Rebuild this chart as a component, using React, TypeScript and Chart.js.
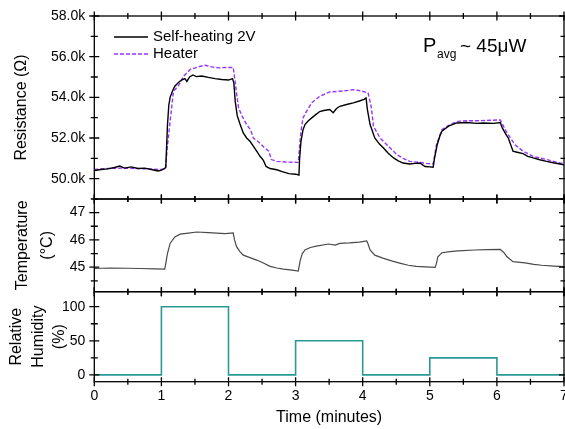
import React, { useEffect, useRef } from 'react';
import { Chart, registerables } from 'chart.js';

Chart.register(...registerables);

const FONT = "'Liberation Sans', Arial, Helvetica, sans-serif";

// ---- Resistance panel (kΩ) ----
const selfTime = [0, 0.1, 0.2, 0.3, 0.38, 0.45, 0.55, 0.65, 0.75, 0.85, 0.95, 1.0, 1.05, 1.065, 1.09, 1.11, 1.13, 1.17, 1.2, 1.25, 1.3, 1.35, 1.38, 1.42, 1.47, 1.52, 1.6, 1.7, 1.8, 1.9, 2.0, 2.06, 2.08, 2.1, 2.13, 2.17, 2.22, 2.27, 2.32, 2.37, 2.42, 2.47, 2.52, 2.56, 2.62, 2.72, 2.8, 2.9, 3.0, 3.05, 3.06, 3.08, 3.11, 3.14, 3.19, 3.24, 3.3, 3.36, 3.42, 3.51, 3.56, 3.61, 3.66, 3.76, 3.86, 3.95, 4.02, 4.05, 4.07, 4.11, 4.18, 4.25, 4.31, 4.38, 4.46, 4.53, 4.6, 4.7, 4.78, 4.85, 4.93, 5.0, 5.05, 5.07, 5.11, 5.15, 5.18, 5.28, 5.4, 5.55, 5.7, 5.8, 5.95, 6.05, 6.08, 6.13, 6.17, 6.24, 6.3, 6.39, 6.46, 6.54, 6.64, 6.74, 6.84, 6.94, 7.0];
const selfRes = [50.4, 50.45, 50.48, 50.55, 50.62, 50.52, 50.58, 50.5, 50.52, 50.45, 50.38, 50.42, 50.5, 50.55, 52.6, 53.6, 54.0, 54.35, 54.55, 54.72, 54.85, 54.92, 54.78, 55.0, 55.1, 55.02, 55.05, 54.98, 54.92, 54.88, 54.85, 54.92, 54.7, 53.8, 53.1, 52.7, 52.25, 52.0, 51.84, 51.6, 51.35, 51.1, 50.9, 50.6, 50.5, 50.44, 50.35, 50.25, 50.22, 50.18, 51.0, 51.84, 52.4, 52.66, 52.85, 52.99, 53.15, 53.3, 53.35, 53.4, 53.24, 53.45, 53.56, 53.65, 53.73, 53.82, 53.9, 53.97, 53.4, 52.66, 52.0, 51.7, 51.51, 51.25, 51.02, 50.88, 50.77, 50.72, 50.75, 50.77, 50.6, 50.58, 50.56, 51.0, 51.67, 52.1, 52.33, 52.58, 52.74, 52.76, 52.72, 52.74, 52.72, 52.76, 52.5, 52.2, 52.0, 51.35, 51.3, 51.23, 51.1, 51.02, 50.93, 50.85, 50.78, 50.72, 50.68];

const heaterTime = [0, 0.2, 0.4, 0.6, 0.8, 1.0, 1.06, 1.09, 1.13, 1.18, 1.25, 1.33, 1.43, 1.55, 1.65, 1.75, 1.85, 1.95, 2.07, 2.09, 2.11, 2.15, 2.2, 2.27, 2.33, 2.37, 2.45, 2.54, 2.6, 2.64, 2.72, 2.85, 3.04, 3.06, 3.08, 3.11, 3.165, 3.24, 3.36, 3.51, 3.66, 3.76, 3.86, 3.97, 4.08, 4.13, 4.16, 4.26, 4.36, 4.51, 4.6, 4.7, 4.85, 4.95, 5.05, 5.1, 5.18, 5.3, 5.42, 5.55, 5.7, 5.9, 6.05, 6.08, 6.15, 6.27, 6.39, 6.54, 6.74, 6.94, 7.0];
const heaterRes = [50.45, 50.5, 50.52, 50.5, 50.48, 50.45, 50.48, 51.6, 52.82, 54.3, 54.55, 55.04, 55.37, 55.5, 55.58, 55.5, 55.45, 55.47, 55.47, 55.0, 54.47, 53.48, 53.1, 52.66, 52.4, 52.0, 51.8, 51.51, 51.35, 50.94, 50.85, 50.82, 50.8, 51.6, 52.33, 52.99, 53.32, 53.73, 54.05, 54.27, 54.3, 54.33, 54.38, 54.32, 54.22, 53.48, 52.58, 52.0, 51.67, 51.18, 51.0, 50.85, 50.8, 50.75, 50.72, 51.67, 52.41, 52.66, 52.82, 52.85, 52.85, 52.87, 52.89, 52.7, 52.25, 51.67, 51.35, 51.1, 50.94, 50.77, 50.75];

// ---- Temperature panel (°C) ----
const tempTime = [0, 0.24, 0.5, 0.68, 0.9, 1.05, 1.07, 1.09, 1.13, 1.2, 1.28, 1.4, 1.53, 1.7, 1.82, 1.95, 2.07, 2.09, 2.12, 2.17, 2.22, 2.32, 2.42, 2.52, 2.62, 2.72, 2.82, 2.95, 3.04, 3.07, 3.1, 3.14, 3.22, 3.31, 3.49, 3.59, 3.66, 3.8, 3.95, 4.06, 4.08, 4.11, 4.18, 4.3, 4.43, 4.55, 4.68, 4.8, 4.93, 5.08, 5.1, 5.12, 5.18, 5.3, 5.42, 5.67, 5.85, 6.05, 6.1, 6.15, 6.24, 6.42, 6.55, 6.67, 6.85, 7.0];
const tempVal = [44.95, 44.97, 44.96, 44.95, 44.94, 44.93, 45.2, 45.5, 45.87, 46.11, 46.21, 46.25, 46.29, 46.27, 46.25, 46.23, 46.26, 46.0, 45.75, 45.57, 45.44, 45.35, 45.26, 45.15, 45.03, 44.97, 44.93, 44.89, 44.86, 45.26, 45.5, 45.63, 45.72, 45.77, 45.85, 45.81, 45.87, 45.89, 45.92, 45.96, 45.85, 45.63, 45.44, 45.33, 45.23, 45.15, 45.07, 45.03, 45.01, 44.99, 45.15, 45.38, 45.53, 45.57, 45.6, 45.63, 45.64, 45.65, 45.55, 45.38, 45.2, 45.16, 45.1, 45.07, 45.04, 45.02];

// ---- Relative humidity panel (%) ----
const humTime = [0, 1, 1, 2, 2, 3, 3, 4, 4, 5, 5, 6, 6, 7];
const humVal = [0, 0, 100, 100, 0, 0, 50, 50, 0, 0, 25, 25, 0, 0];

// ---- Ticks ----
const xTicks = [0, 1, 2, 3, 4, 5, 6, 7];
const xMinor = [0.5, 1.5, 2.5, 3.5, 4.5, 5.5, 6.5];
const resTicks = [50, 52, 54, 56, 58];
const resMinor = [49, 51, 53, 55, 57];
const tempTicks = [45, 46, 47];
const tempMinor = [44.5, 45.5, 46.5];
const humTicks = [0, 50, 100];
const humMinor = [25, 75];

const legendLabels = ['Self-heating 2V', 'Heater'];

const toPts = (xs: number[], ys: number[]) => xs.map((x, i) => ({ x, y: ys[i] }));

const framePlugin = {
  id: 'frame',
  afterDatasetsDraw(chart: any) {
    const ctx = chart.ctx as CanvasRenderingContext2D;
    const { left, right } = chart.chartArea;
    const xs = chart.scales.x;
    const panels: [string, number[], number[]][] = [
      ['yR', resTicks, resMinor],
      ['yT', tempTicks, tempMinor],
      ['yH', humTicks, humMinor],
    ];
    ctx.save();
    ctx.strokeStyle = '#000';
    ctx.lineWidth = 1.3;
    ctx.setLineDash([]);
    for (const [id, major, minor] of panels) {
      const s = chart.scales[id];
      const top = s.top;
      const bottom = s.bottom;
      ctx.strokeRect(left, top, right - left, bottom - top);
      ctx.beginPath();
      for (const v of xTicks) {
        const px = xs.getPixelForValue(v);
        ctx.moveTo(px, top - 4.5); ctx.lineTo(px, top + 4.5);
        ctx.moveTo(px, bottom - 4.5); ctx.lineTo(px, bottom + 4.5);
      }
      for (const v of xMinor) {
        const px = xs.getPixelForValue(v);
        ctx.moveTo(px, top - 3); ctx.lineTo(px, top + 3);
        ctx.moveTo(px, bottom - 3); ctx.lineTo(px, bottom + 3);
      }
      for (const v of major) {
        const py = s.getPixelForValue(v);
        ctx.moveTo(left - 5, py); ctx.lineTo(left + 5, py);
        ctx.moveTo(right - 5, py); ctx.lineTo(right + 5, py);
      }
      for (const v of minor) {
        const py = s.getPixelForValue(v);
        ctx.moveTo(left - 3.5, py); ctx.lineTo(left + 3.5, py);
        ctx.moveTo(right - 3.5, py); ctx.lineTo(right + 3.5, py);
      }
      ctx.stroke();
    }

    // legend
    ctx.font = `15px ${FONT}`;
    ctx.textBaseline = 'middle';
    ctx.textAlign = 'left';
    ctx.fillStyle = '#000';
    ctx.lineWidth = 1.4;
    ctx.strokeStyle = '#000';
    ctx.beginPath();
    ctx.moveTo(114, 37); ctx.lineTo(148, 37);
    ctx.stroke();
    ctx.fillText(legendLabels[0], 153, 37);
    ctx.strokeStyle = '#9933ff';
    ctx.setLineDash([4, 2]);
    ctx.beginPath();
    ctx.moveTo(114, 54); ctx.lineTo(148, 54);
    ctx.stroke();
    ctx.setLineDash([]);
    ctx.fillText(legendLabels[1], 153, 54);

    // P_avg annotation
    ctx.textBaseline = 'alphabetic';
    ctx.font = `20px ${FONT}`;
    ctx.fillText('P', 423, 52);
    ctx.font = `12px ${FONT}`;
    ctx.fillText('avg', 437, 58);
    ctx.font = `19px ${FONT}`;
    ctx.fillText('~ 45\u03BCW', 460, 52);
    ctx.restore();
  },
};

export default function App() {
  const ref = useRef<HTMLCanvasElement>(null);
  useEffect(() => {
    document.body.style.margin = '0';
    Chart.defaults.font.family = FONT;
    Chart.defaults.color = '#000';
    const tickFont = { size: 14, family: FONT };
    const fitY = (s: any) => { s.width = 94.3; s.paddingTop = 0; s.paddingBottom = 0; s.paddingLeft = 0; s.paddingRight = 0; };
    const chart = new Chart(ref.current!, {
      type: 'line',
      data: {
        datasets: [
          {
            label: legendLabels[0],
            data: toPts(selfTime, selfRes),
            yAxisID: 'yR',
            borderColor: '#000',
            borderWidth: 1.4,
            pointRadius: 0,
            tension: 0,
          },
          {
            label: legendLabels[1],
            data: toPts(heaterTime, heaterRes),
            yAxisID: 'yR',
            borderColor: '#9933ff',
            borderDash: [4, 2],
            borderWidth: 1.4,
            pointRadius: 0,
            tension: 0,
          },
          {
            label: 'Temperature',
            data: toPts(tempTime, tempVal),
            yAxisID: 'yT',
            borderColor: '#4a4a4a',
            borderWidth: 1.2,
            pointRadius: 0,
            tension: 0,
          },
          {
            label: 'Relative Humidity',
            data: toPts(humTime, humVal),
            yAxisID: 'yH',
            borderColor: '#2a9a96',
            borderWidth: 1.6,
            pointRadius: 0,
            tension: 0,
          },
        ],
      },
      options: {
        animation: false,
        responsive: false,
        devicePixelRatio: 1,
        layout: { padding: { top: 16, right: 1, left: 0, bottom: 0 }, autoPadding: false },
        plugins: { legend: { display: false }, tooltip: { enabled: false } },
        scales: {
          x: {
            type: 'linear',
            position: 'bottom',
            min: 0,
            max: 7,
            grid: { display: false, drawTicks: false },
            border: { display: false },
            afterBuildTicks: (s: any) => { s.ticks = xTicks.map((v) => ({ value: v })); },
            afterFit: (s: any) => { s.height = 47.3; s.paddingLeft = 0; s.paddingRight = 0; s.paddingTop = 0; s.paddingBottom = 0; },
            ticks: { font: tickFont, color: '#000', padding: 6, maxRotation: 0, autoSkip: false },
            title: { display: true, text: 'Time (minutes)', font: { size: 16, family: FONT }, color: '#000', padding: { top: 0, bottom: 1.4 } },
          },
          yR: {
            type: 'linear',
            position: 'left',
            stack: 'panels',
            stackWeight: 183,
            weight: 3,
            min: 49,
            max: 58,
            grid: { display: false, drawTicks: false },
            border: { display: false },
            afterBuildTicks: (s: any) => { s.ticks = resTicks.map((v) => ({ value: v })); },
            afterFit: fitY,
            ticks: { font: tickFont, color: '#000', padding: 9, callback: (v: any) => `${Number(v).toFixed(1)}k` },
            title: { display: true, text: 'Resistance (\u03A9)', font: { size: 16, family: FONT, lineHeight: 1.2 }, color: '#000', padding: { top: 12.4, bottom: 0 } },
          },
          yT: {
            type: 'linear',
            position: 'left',
            stack: 'panels',
            stackWeight: 92.7,
            weight: 2,
            min: 44.1,
            max: 47.5,
            grid: { display: false, drawTicks: false },
            border: { display: false },
            afterBuildTicks: (s: any) => { s.ticks = tempTicks.map((v) => ({ value: v })); },
            afterFit: fitY,
            ticks: { font: tickFont, color: '#000', padding: 9 },
            title: { display: true, text: ['Temperature', '(\u00B0C)'], font: { size: 16, family: FONT, lineHeight: 1.55 }, color: '#000', padding: { top: 10.5, bottom: 0 } },
          },
          yH: {
            type: 'linear',
            position: 'left',
            stack: 'panels',
            stackWeight: 90,
            weight: 1,
            min: -10,
            max: 122,
            grid: { display: false, drawTicks: false },
            border: { display: false },
            afterBuildTicks: (s: any) => { s.ticks = humTicks.map((v) => ({ value: v })); },
            afterFit: fitY,
            ticks: { font: tickFont, color: '#000', padding: 9 },
            title: { display: true, text: ['Relative', 'Humidity', '(%)'], font: { size: 16, family: FONT, lineHeight: 1.34 }, color: '#000', padding: { top: 6.3, bottom: 0 } },
          },
        },
      },
      plugins: [framePlugin],
    } as any);
    return () => chart.destroy();
  }, []);
  return (
    <div style={{ position: 'fixed', left: 0, top: 0, width: 565, height: 429, background: '#fff' }}>
      <canvas ref={ref} width={565} height={429} style={{ display: 'block', width: 565, height: 429 }} />
    </div>
  );
}
